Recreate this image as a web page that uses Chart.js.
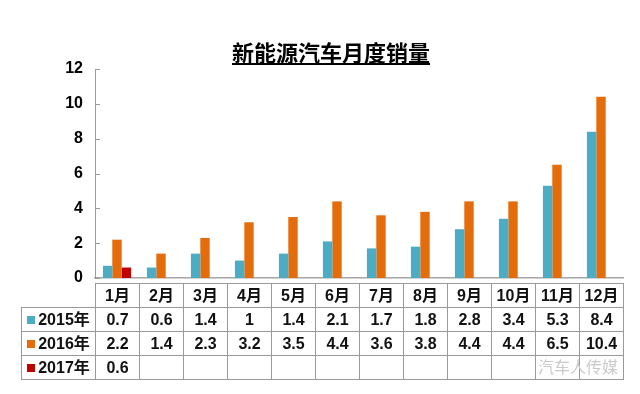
<!DOCTYPE html>
<html>
<head>
<meta charset="utf-8">
<script src="https://cdn.jsdelivr.net/npm/chart.js@4/dist/chart.umd.min.js"></script>
<style>
    body { margin: 0; background: #fff; }
    #wrap { position: relative; width: 640px; height: 394px; overflow: hidden; }
    #chart { position: absolute; left: 0; top: 0; }
    #title {
        position: absolute; left: 0; width: 662px; top: 39px;
        text-align: center; font: bold 22px "Noto Sans CJK SC", sans-serif;
        line-height: 24px; text-decoration: underline; color: #000;
    }
    #tbl {
        position: absolute; border-collapse: collapse; table-layout: fixed;
        font: bold 16px "Liberation Sans", Arial, "Noto Sans CJK SC", sans-serif;
        line-height: 20px; color: #111;
    }
    #tbl td { border: 1px solid #9a9a9a; text-align: center; padding: 0; height: 23px; white-space: nowrap; }
    #tbl td.blank { border-top: none; border-left: none; }
    .sw { display: inline-block; width: 8px; height: 8px; margin-right: 3px; vertical-align: 1px; }
    #mark {
        position: absolute; left: 538px; top: 354px;
        font: 16px "Noto Sans CJK SC", sans-serif; color: #c9c9c9;
    }
</style>
</head>
<body>
<div id="wrap">
    <canvas id="chart" width="640" height="394"></canvas>
    <div id="title">新能源汽车月度销量</div>
    <table id="tbl"></table>
    <div id="mark">汽车人传媒</div>
</div>
<script>
const months = ["1月", "2月", "3月", "4月", "5月", "6月", "7月", "8月", "9月", "10月", "11月", "12月"];
const seriesNames = ["2015年", "2016年", "2017年"];
const sales2015 = [0.7, 0.6, 1.4, 1, 1.4, 2.1, 1.7, 1.8, 2.8, 3.4, 5.3, 8.4];
const sales2016 = [2.2, 1.4, 2.3, 3.2, 3.5, 4.4, 3.6, 3.8, 4.4, 4.4, 6.5, 10.4];
const sales2017 = [0.6, null, null, null, null, null, null, null, null, null, null, null];
const colors = ["#4bacc6", "#e46c0a", "#c00000"];

Chart.defaults.font.family = '"Liberation Sans", Arial, "Noto Sans CJK SC", sans-serif';

// little tick marks pointing into the plot, like the original
const innerTicks = {
    id: "innerTicks",
    afterDraw(chart) {
        const y = chart.scales.y;
        const ctx = chart.ctx;
        ctx.save();
        ctx.strokeStyle = "#9a9a9a";
        ctx.lineWidth = 1;
        y.ticks.forEach(t => {
            const py = Math.round(y.getPixelForValue(t.value)) + 0.5;
            ctx.beginPath();
            ctx.moveTo(chart.chartArea.left, py);
            ctx.lineTo(chart.chartArea.left + 5, py);
            ctx.stroke();
        });
        ctx.restore();
    }
};

const ctx = document.getElementById("chart").getContext("2d");
const salesChart = new Chart(ctx, {
    type: "bar",
    data: {
        labels: months,
        datasets: [
            { label: seriesNames[0], data: sales2015, backgroundColor: colors[0] },
            { label: seriesNames[1], data: sales2016, backgroundColor: colors[1] },
            { label: seriesNames[2], data: sales2017, backgroundColor: colors[2] }
        ]
    },
    options: {
        responsive: false,
        animation: false,
        categoryPercentage: 0.64,
        barPercentage: 1,
        layout: { padding: { top: 69, bottom: 108, left: 35, right: 17 } },
        plugins: {
            legend: { display: false },
            tooltip: { enabled: false },
            title: { display: false }
        },
        scales: {
            x: {
                grid: { display: false },
                border: { display: true, color: "#a6a6a6", width: 1.5 },
                ticks: { display: false }
            },
            y: {
                min: 0,
                max: 12,
                afterFit: s => { s.width = 60; },
                grid: { display: false, drawTicks: false },
                border: { display: true, color: "#9a9a9a" },
                ticks: {
                    stepSize: 2,
                    padding: 12,
                    color: "#000",
                    font: { size: 16, weight: "bold" }
                }
            }
        }
    },
    plugins: [innerTicks]
});

// data table under the plot, lined up with the category slots
const area = salesChart.chartArea;
const colW = (area.right - area.left) / months.length;
const labelW = 74;
const tbl = document.getElementById("tbl");
tbl.style.left = (area.left - labelW) + "px";
tbl.style.top = (area.bottom + 5) + "px";
tbl.style.width = (labelW + colW * months.length) + "px";

let html = "<colgroup><col style='width:" + labelW + "px'>";
months.forEach(() => { html += "<col style='width:" + colW + "px'>"; });
html += "</colgroup><tr><td class='blank'></td>";
months.forEach(m => { html += "<td>" + m + "</td>"; });
html += "</tr>";
[sales2015, sales2016, sales2017].forEach((arr, i) => {
    html += "<tr><td><span class='sw' style='background:" + colors[i] + "'></span>" + seriesNames[i] + "</td>";
    arr.forEach(v => { html += "<td>" + (v === null ? "" : String(v)) + "</td>"; });
    html += "</tr>";
});
tbl.innerHTML = html;
</script>
</body>
</html>
